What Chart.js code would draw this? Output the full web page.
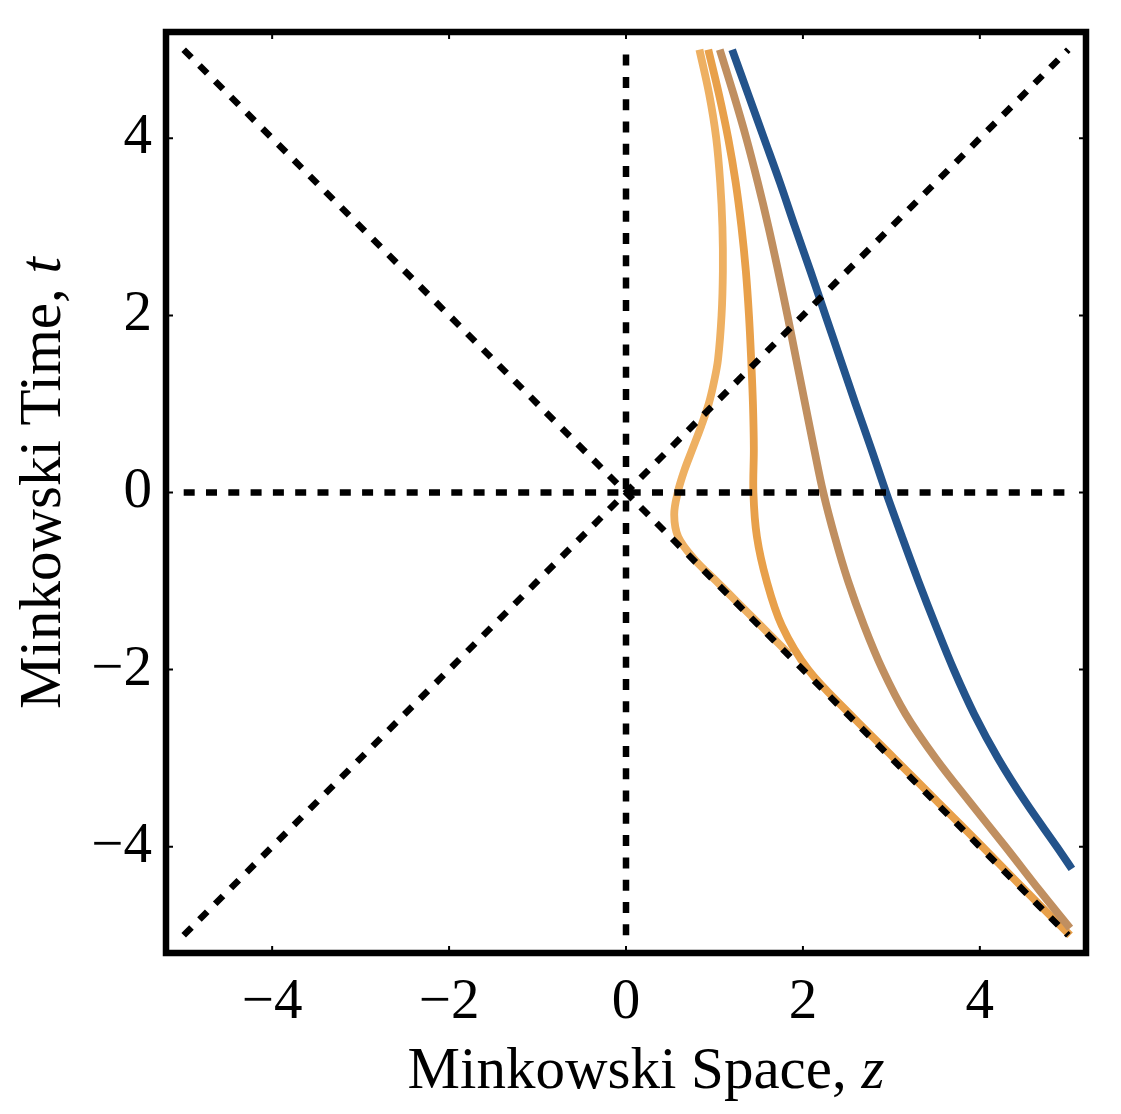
<!DOCTYPE html>
<html><head><meta charset="utf-8">
<style>html,body{margin:0;padding:0;background:#fff;}canvas{display:block;}</style>
<script src="https://cdn.jsdelivr.net/npm/chart.js@4.4.1/dist/chart.umd.min.js"></script>
</head><body>
<canvas id="c" width="1121" height="1114"></canvas>
<script>
// ---- data ----
const xTicks = [-4, -2, 0, 2, 4];
const yTicks = [-4, -2, 0, 2, 4];
const xTitle = ['Minkowski Space, ', 'z'];
const yTitle = ['Minkowski Time, ', 't'];

// reference (light cone and axes) lines, endpoints in data units [z, t]
const refVertical   = [[0, -5], [0, 5]];
const refHorizontal = [[-5, 0], [5, 0]];
const refDiagUp     = [[-5, -5], [5, 5]];
const refDiagDown   = [[-5, 5], [5, -5]];

// worldlines: t samples and z values
const tBlue = [5, 4.5, 4, 3.5, 3, 2.5, 2, 1.5, 1, 0.5, 0, -0.5, -1, -1.5, -2, -2.5, -3, -3.5, -4, -4.25];
const zBlue = [1.20, 1.38, 1.56, 1.74, 1.91, 2.085, 2.255, 2.425, 2.595, 2.77, 2.94, 3.12, 3.305, 3.50, 3.705, 3.935, 4.205, 4.52, 4.87, 5.04];

const tTan = [5, 4.5, 4, 3.5, 3, 2.5, 2, 1.5, 1, 0.5, 0, -0.5, -1, -1.5, -2, -2.5, -3, -3.5, -4, -4.5, -4.92];
const zTan = [1.06, 1.215, 1.36, 1.49, 1.61, 1.72, 1.825, 1.925, 2.025, 2.125, 2.23, 2.36, 2.51, 2.69, 2.90, 3.16, 3.50, 3.89, 4.29, 4.68, 5.02];

const tOrange = [5, 4.5, 4, 3.5, 3, 2.5, 2, 1.5, 1, 0.5, 0, -0.5, -1, -1.5, -2, -2.5, -3, -3.5, -4, -4.5, -5];
const zOrange = [0.93, 1.05, 1.155, 1.24, 1.305, 1.355, 1.39, 1.415, 1.435, 1.445, 1.44, 1.48, 1.59, 1.76, 2.06, 2.53, 3.03, 3.53, 4.03, 4.52, 5.02];

const tLight = [5, 4.5, 4, 3.5, 3, 2.5, 2, 1.5, 1.25, 1, 0.75, 0.5, 0.25, 0, -0.25, -0.5, -0.75, -1, -1.25, -1.5, -1.82];
const zLight = [0.83, 0.94, 1.02, 1.065, 1.09, 1.095, 1.08, 1.04, 0.995, 0.935, 0.85, 0.755, 0.66, 0.585, 0.545, 0.59, 0.77, 1.02, 1.27, 1.52, 1.84];

// ---- build ----
const pts = (ts, zs) => ts.map((t, i) => ({x: zs[i], y: t}));
const seg = s => s.map(p => ({x: p[0], y: p[1]}));
const minus = v => v < 0 ? '\u2212' + Math.abs(v) : String(v);

const dashed = d => ({data: seg(d), showLine: true, borderColor: '#000', borderWidth: 6.5,
  borderDash: [11, 11.3], borderCapStyle: 'butt', pointRadius: 0, order: 0, tension: 0});
const curve = (d, color, order) => ({data: d, showLine: true, borderColor: color, borderWidth: 7.8,
  pointRadius: 0, tension: 0.35, order: order, borderCapStyle: 'butt', borderJoinStyle: 'round'});

const serif = "'Liberation Serif', 'DejaVu Serif', serif";

const framePlugin = {
  id: 'frame',
  afterDraw(chart) {
    const {ctx, chartArea: a, scales: {x, y}} = chart;
    ctx.save();
    ctx.strokeStyle = '#000';
    ctx.lineWidth = 2;
    const L = 7;
    xTicks.forEach(v => {
      const px = x.getPixelForValue(v);
      ctx.beginPath();
      ctx.moveTo(px, a.bottom); ctx.lineTo(px, a.bottom - L);
      ctx.moveTo(px, a.top); ctx.lineTo(px, a.top + L);
      ctx.stroke();
    });
    yTicks.forEach(v => {
      const py = y.getPixelForValue(v);
      ctx.beginPath();
      ctx.moveTo(a.left, py); ctx.lineTo(a.left + L, py);
      ctx.moveTo(a.right, py); ctx.lineTo(a.right - L, py);
      ctx.stroke();
    });
    ctx.lineWidth = 6.5;
    ctx.strokeRect(a.left, a.top, a.right - a.left, a.bottom - a.top);

    // axis titles (with italic variable)
    ctx.fillStyle = '#000';
    ctx.textBaseline = 'alphabetic';
    ctx.textAlign = 'left';
    const fN = "59px " + serif, fI = "italic 59px " + serif;
    // x title
    ctx.font = fN; const w1 = ctx.measureText(xTitle[0]).width;
    ctx.font = fI; const w2 = ctx.measureText(xTitle[1]).width;
    let cx = (a.left + a.right) / 2 + 20;
    let sx = cx - (w1 + w2) / 2;
    ctx.font = fN; ctx.fillText(xTitle[0], sx, 1088);
    ctx.font = fI; ctx.fillText(xTitle[1], sx + w1, 1088);
    // y title
    ctx.font = fN; const h1 = ctx.measureText(yTitle[0]).width;
    ctx.font = fI; const h2 = ctx.measureText(yTitle[1]).width;
    ctx.translate(60, 483);
    ctx.rotate(-Math.PI / 2);
    let sy = -(h1 + h2) / 2;
    ctx.font = fN; ctx.fillText(yTitle[0], sy, 0);
    ctx.font = fI; ctx.fillText(yTitle[1], sy + h1, 0);
    ctx.restore();
  }
};

new Chart(document.getElementById('c'), {
  type: 'scatter',
  data: {
    datasets: [
      dashed(refVertical), dashed(refHorizontal), dashed(refDiagUp), dashed(refDiagDown),
      curve(pts(tTan, zTan), '#C08F60', 1),
      curve(pts(tOrange, zOrange), '#E8A04A', 2),
      curve(pts(tLight, zLight), '#EEB062', 3),
      curve(pts(tBlue, zBlue), '#23538B', 4)
    ]
  },
  options: {
    responsive: false,
    animation: false,
    devicePixelRatio: 1,
    layout: {padding: {top: 32, right: 35, left: 0, bottom: 0}},
    plugins: {legend: {display: false}, tooltip: {enabled: false}},
    scales: {
      x: {
        type: 'linear', min: -5.2, max: 5.2,
        afterBuildTicks: s => { s.ticks = xTicks.map(v => ({value: v})); },
        afterFit: s => { s.height = 161; s.paddingLeft = 0; s.paddingRight = 0; },
        grid: {display: false, drawTicks: false},
        border: {display: false},
        ticks: {color: '#000', font: {family: serif, size: 57}, padding: 16, callback: v => minus(v), maxRotation: 0}
      },
      y: {
        type: 'linear', min: -5.2, max: 5.2,
        afterBuildTicks: s => { s.ticks = yTicks.map(v => ({value: v})); },
        afterFit: s => { s.width = 166; s.paddingTop = 0; s.paddingBottom = 0; },
        grid: {display: false, drawTicks: false},
        border: {display: false},
        ticks: {color: '#000', font: {family: serif, size: 57}, padding: 14, callback: v => minus(v)}
      }
    }
  },
  plugins: [framePlugin]
});
</script>
</body></html>
